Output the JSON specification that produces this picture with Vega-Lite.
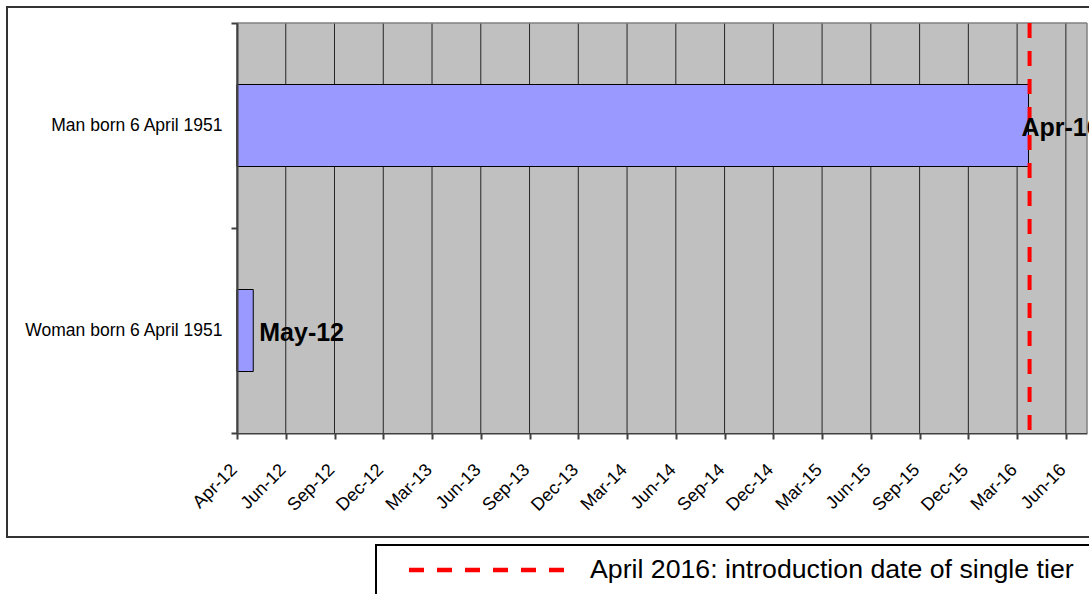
{
  "$schema": "https://vega.github.io/schema/vega-lite/v6.json",
  "width": 1092,
  "height": 530,
  "autosize": {"type": "none"},
  "padding": {"left": 7, "top": 7, "right": -10, "bottom": 57},
  "background": "white",
  "config": {
    "view": {"stroke": "#333333", "strokeWidth": 2, "fill": "white"},
    "legend": {"strokeWidth": 2}
  },
  "datasets": {
    "people": [
      {"person": "Man born 6 April 1951", "start": "2012-04-01T00:00:00", "end": "2016-04-01T00:00:00"},
      {"person": "Woman born 6 April 1951", "start": "2012-04-01T00:00:00", "end": "2012-05-01T00:00:00"}
    ],
    "ticks": [
      {"date": "2012-04-01T00:00:00"}, {"date": "2012-06-30T00:00:00"}, {"date": "2012-09-28T00:00:00"},
      {"date": "2012-12-27T00:00:00"}, {"date": "2013-03-27T00:00:00"}, {"date": "2013-06-25T00:00:00"},
      {"date": "2013-09-23T00:00:00"}, {"date": "2013-12-22T00:00:00"}, {"date": "2014-03-22T00:00:00"},
      {"date": "2014-06-20T00:00:00"}, {"date": "2014-09-18T00:00:00"}, {"date": "2014-12-17T00:00:00"},
      {"date": "2015-03-17T00:00:00"}, {"date": "2015-06-15T00:00:00"}, {"date": "2015-09-13T00:00:00"},
      {"date": "2015-12-12T00:00:00"}, {"date": "2016-03-11T00:00:00"}, {"date": "2016-06-09T00:00:00"}
    ],
    "events": [
      {"event": "April 2016: introduction date of single tier", "date": "2016-04-03T00:00:00"}
    ]
  },
  "data": {"name": "people"},
  "layer": [
    {
      "mark": {"type": "rect", "fill": "#C0C0C0"},
      "encoding": {
        "x": {"datum": {"year": 2012, "month": 4, "date": 1}, "type": "temporal"},
        "x2": {"datum": {"year": 2016, "month": 7, "date": 18}},
        "y": {"field": "person", "type": "nominal"}
      }
    },
    {
      "data": {"name": "ticks"},
      "mark": {"type": "rule", "stroke": "#262626", "strokeWidth": 1},
      "encoding": {
        "x": {"field": "date", "type": "temporal"},
        "y": {"datum": "Man born 6 April 1951", "type": "nominal", "bandPosition": 0},
        "y2": {"datum": "Woman born 6 April 1951", "bandPosition": 1}
      }
    },
    {
      "data": {"values": [{}]},
      "mark": {"type": "rule", "stroke": "#808080", "strokeWidth": 1.5},
      "encoding": {
        "x": {"datum": {"year": 2012, "month": 4, "date": 1}, "type": "temporal"},
        "x2": {"datum": {"year": 2016, "month": 7, "date": 18}},
        "y": {"datum": "Man born 6 April 1951", "type": "nominal", "bandPosition": 0}
      }
    },
    {
      "data": {"values": [{}]},
      "mark": {"type": "rule", "stroke": "#808080", "strokeWidth": 1.5},
      "encoding": {
        "x": {"datum": {"year": 2016, "month": 7, "date": 18}, "type": "temporal"},
        "y": {"datum": "Man born 6 April 1951", "type": "nominal", "bandPosition": 0},
        "y2": {"datum": "Woman born 6 April 1951", "bandPosition": 1}
      }
    },
    {
      "mark": {"type": "bar", "fill": "#9999FF", "stroke": "black", "strokeWidth": 1, "height": {"band": 0.4}},
      "encoding": {
        "x": {
          "field": "start",
          "type": "temporal",
          "scale": {
            "domain": [{"year": 2012, "month": 4, "date": 1}, {"year": 2016, "month": 7, "date": 18}],
            "range": [230, 1080]
          },
          "axis": {
            "title": null,
            "offset": -104,
            "values": [
              {"year": 2012, "month": 4, "date": 1}, {"year": 2012, "month": 6, "date": 30}, {"year": 2012, "month": 9, "date": 28},
              {"year": 2012, "month": 12, "date": 27}, {"year": 2013, "month": 3, "date": 27}, {"year": 2013, "month": 6, "date": 25},
              {"year": 2013, "month": 9, "date": 23}, {"year": 2013, "month": 12, "date": 22}, {"year": 2014, "month": 3, "date": 22},
              {"year": 2014, "month": 6, "date": 20}, {"year": 2014, "month": 9, "date": 18}, {"year": 2014, "month": 12, "date": 17},
              {"year": 2015, "month": 3, "date": 17}, {"year": 2015, "month": 6, "date": 15}, {"year": 2015, "month": 9, "date": 13},
              {"year": 2015, "month": 12, "date": 12}, {"year": 2016, "month": 3, "date": 11}, {"year": 2016, "month": 6, "date": 9}
            ],
            "format": "%b-%y",
            "grid": false,
            "labelAngle": -45,
            "labelAlign": "right",
            "labelBaseline": "middle",
            "labelFont": "Liberation Sans",
            "labelFontSize": 18,
            "labelColor": "black",
            "labelPadding": 28,
            "labelOffset": -3,
            "labelOverlap": false,
            "labelFlush": false,
            "tickSize": 6,
            "tickWidth": 2,
            "tickColor": "#404040",
            "domainColor": "#404040",
            "domainWidth": 2
          }
        },
        "x2": {"field": "end"},
        "y": {
          "field": "person",
          "type": "nominal",
          "scale": {
            "domain": ["Man born 6 April 1951", "Woman born 6 April 1951"],
            "range": [16, 426],
            "paddingInner": 0,
            "paddingOuter": 0
          },
          "axis": {
            "title": null,
            "offset": -230,
            "tickBand": "extent",
            "grid": false,
            "tickSize": 6,
            "tickWidth": 2,
            "tickColor": "#404040",
            "domainColor": "#404040",
            "domainWidth": 2,
            "labelFont": "Liberation Sans",
            "labelFontSize": 17.5,
            "labelColor": "black",
            "labelPadding": 9,
            "labelLimit": 400
          }
        }
      }
    },
    {
      "data": {"name": "events"},
      "mark": {"type": "rule", "strokeWidth": 4, "strokeDash": [15, 13]},
      "encoding": {
        "x": {"field": "date", "type": "temporal"},
        "y": {"datum": "Man born 6 April 1951", "type": "nominal", "bandPosition": 0},
        "y2": {"datum": "Woman born 6 April 1951", "bandPosition": 1},
        "color": {
          "field": "event",
          "type": "nominal",
          "scale": {"range": ["#FF0000"]},
          "legend": {
            "orient": "none",
            "legendX": 369,
            "legendY": 538,
            "title": "\u00a0",
            "titleOrient": "right",
            "titleColor": "transparent",
            "titlePadding": 10,
            "titleFontSize": 11,
            "symbolType": "stroke",
            "symbolSize": 24025,
            "symbolStrokeWidth": 4.5,
            "symbolDash": [15, 13],
            "clipHeight": 26,
            "symbolOffset": 18.5,
            "labelOffset": 23.5,
            "labelFont": "Liberation Sans",
            "labelFontSize": 26.7,
            "labelColor": "black",
            "labelLimit": 1000,
            "padding": 12,
            "strokeColor": "black",
            "fillColor": "white"
          }
        }
      }
    },
    {
      "transform": [{"filter": "datum.person === 'Man born 6 April 1951'"}],
      "mark": {"type": "text", "align": "left", "baseline": "alphabetic", "dx": -7, "dy": 10, "font": "Liberation Sans", "fontWeight": "bold", "fontSize": 25, "color": "black"},
      "encoding": {
        "x": {"field": "end", "type": "temporal"},
        "y": {"field": "person", "type": "nominal"},
        "text": {"field": "end", "type": "temporal", "format": "%b-%y"}
      }
    },
    {
      "transform": [{"filter": "datum.person === 'Woman born 6 April 1951'"}],
      "mark": {"type": "text", "align": "left", "baseline": "alphabetic", "dx": 6, "dy": 10, "font": "Liberation Sans", "fontWeight": "bold", "fontSize": 25, "color": "black"},
      "encoding": {
        "x": {"field": "end", "type": "temporal"},
        "y": {"field": "person", "type": "nominal"},
        "text": {"field": "end", "type": "temporal", "format": "%b-%y"}
      }
    }
  ]
}
